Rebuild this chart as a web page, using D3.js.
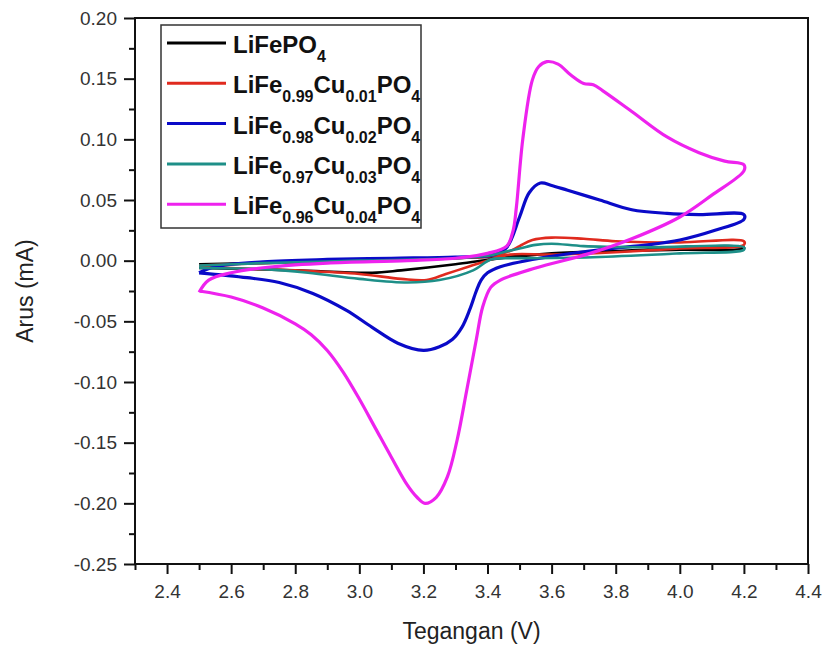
<!DOCTYPE html>
<html>
<head>
<meta charset="utf-8">
<script src="https://cdn.jsdelivr.net/npm/d3@7"></script>
<style>
  body { margin: 0; background: #fff; }
  svg { font-family: Arial, "Liberation Sans", sans-serif; }
</style>
</head>
<body>
<svg id="chart" width="825" height="645"></svg>
<script>
// LiFePO4
var voltage00 = [2.50, 2.80, 3.04, 3.13, 3.30, 3.41, 3.60, 3.80, 4.00, 4.20, 4.20, 3.80, 3.40, 3.00, 2.50];
var current00 = [-0.006, -0.008, -0.010, -0.008, -0.003, 0.001, 0.006, 0.008, 0.009, 0.010, 0.011, 0.008, 0.003, 0.000, -0.003];

// LiFe0.99Cu0.01PO4
var voltage01 = [2.50, 2.70, 3.00, 3.30, 3.42, 3.47, 3.50, 3.54, 3.60, 3.70, 3.80, 4.00, 4.20,
                 4.20, 4.00, 3.80, 3.60, 3.47, 3.40, 3.34, 3.27, 3.21, 3.13, 3.00, 2.80, 2.60, 2.50];
var current01 = [-0.004, -0.002, 0.000, 0.002, 0.004, 0.008, 0.012, 0.017, 0.019, 0.018, 0.016, 0.015, 0.016,
                 0.013, 0.010, 0.007, 0.005, 0.005, 0.000, -0.005, -0.011, -0.016, -0.015, -0.011, -0.008, -0.006, -0.004];

// LiFe0.98Cu0.02PO4
var voltage02 = [2.50, 2.55, 2.70, 2.90, 3.10, 3.30, 3.42, 3.46, 3.50, 3.53, 3.565, 3.60, 3.65, 3.75, 3.85, 3.96, 4.06, 4.20,
                 4.20, 4.11, 4.00, 3.90, 3.75, 3.54, 3.44, 3.40, 3.38, 3.365, 3.345, 3.32, 3.29, 3.25, 3.20, 3.12, 3.04, 2.96, 2.855, 2.75, 2.65, 2.50];
var current02 = [-0.010, -0.005, -0.001, 0.001, 0.002, 0.003, 0.005, 0.011, 0.036, 0.056, 0.064, 0.062, 0.058, 0.050, 0.042, 0.039, 0.038, 0.038,
                 0.034, 0.025, 0.017, 0.013, 0.009, 0.001, -0.005, -0.010, -0.016, -0.025, -0.040, -0.055, -0.065, -0.071, -0.074, -0.068, -0.055, -0.041, -0.027, -0.018, -0.014, -0.010];

// LiFe0.97Cu0.03PO4
var voltage03 = [2.50, 2.70, 3.00, 3.30, 3.40, 3.45, 3.50, 3.55, 3.60, 3.70, 3.90, 4.20,
                 4.20, 4.00, 3.75, 3.55, 3.45, 3.41, 3.355, 3.25, 3.15, 3.00, 2.84, 2.70, 2.50];
var current03 = [-0.004, -0.002, 0.000, 0.002, 0.004, 0.007, 0.010, 0.013, 0.014, 0.012, 0.011, 0.011,
                 0.009, 0.006, 0.003, 0.002, 0.002, 0.001, -0.008, -0.016, -0.018, -0.015, -0.010, -0.007, -0.006];

// LiFe0.96Cu0.04PO4
var voltage04 = [2.50, 2.53, 2.60, 2.73, 2.90, 3.15, 3.30, 3.40, 3.46, 3.48, 3.49, 3.51, 3.54, 3.56, 3.585, 3.62, 3.66, 3.70, 3.73, 3.76, 3.85, 3.96, 4.06, 4.14, 4.20,
                 4.20, 4.10, 4.00, 3.85, 3.72, 3.55, 3.44, 3.41, 3.385, 3.365, 3.335, 3.305, 3.275, 3.24, 3.205, 3.18, 3.15, 3.10, 3.05, 3.00, 2.95, 2.90, 2.85, 2.80, 2.70, 2.60, 2.50];
var current04 = [-0.026, -0.016, -0.010, -0.005, -0.002, 0.000, 0.002, 0.006, 0.012, 0.025, 0.044, 0.100, 0.149, 0.160, 0.164, 0.162, 0.153, 0.146, 0.145, 0.140, 0.123, 0.102, 0.089, 0.082, 0.079,
                 0.074, 0.054, 0.036, 0.018, 0.006, -0.006, -0.016, -0.022, -0.038, -0.065, -0.107, -0.148, -0.178, -0.195, -0.200, -0.195, -0.185, -0.162, -0.138, -0.114, -0.092, -0.074, -0.061, -0.052, -0.039, -0.030, -0.025];

var feSub = ["", "0.99", "0.98", "0.97", "0.96"];
var cuSub = ["", "0.01", "0.02", "0.03", "0.04"];
var colors = ["#000000", "#e02a1e", "#0a0ac8", "#1e8f88", "#ee22ee"];

var xMajor = [2.4, 2.6, 2.8, 3.0, 3.2, 3.4, 3.6, 3.8, 4.0, 4.2, 4.4];
var xMinor = [2.3, 2.5, 2.7, 2.9, 3.1, 3.3, 3.5, 3.7, 3.9, 4.1, 4.3];
var yMajor = [-0.25, -0.20, -0.15, -0.10, -0.05, 0.00, 0.05, 0.10, 0.15, 0.20];
var yMinor = [-0.225, -0.175, -0.125, -0.075, -0.025, 0.025, 0.075, 0.125, 0.175];

var allV = [voltage00, voltage01, voltage02, voltage03, voltage04];
var allI = [current00, current01, current02, current03, current04];

var pLeft = 135, pRight = 808, pTop = 18, pBottom = 564;

var svg = d3.select("#chart");

var x = d3.scaleLinear().domain([2.3, 4.4]).range([pLeft, pRight]);
var y = d3.scaleLinear().domain([-0.25, 0.20]).range([pBottom, pTop]);

// curves
var line = d3.line()
    .x(function(d) { return x(d[0]); })
    .y(function(d) { return y(d[1]); })
    .curve(d3.curveCatmullRom.alpha(0.5));

for (var s = 0; s < allV.length; s++) {
    var pts = allV[s].map(function(v, i) { return [v, allI[s][i]]; });
    svg.append("path")
       .datum(pts)
       .attr("d", line)
       .attr("fill", "none")
       .attr("stroke", colors[s])
       .attr("stroke-width", s == 2 || s == 4 ? 3.2 : 2.6)
       .attr("stroke-linejoin", "round");
}

// frame
svg.append("rect")
   .attr("x", pLeft).attr("y", pTop)
   .attr("width", pRight - pLeft).attr("height", pBottom - pTop)
   .attr("fill", "none").attr("stroke", "#111").attr("stroke-width", 2);

// axes
var fmtX = function(d) { return d3.format(".1f")(d); };
var fmtY = function(d) { return d3.format(".2f")(d).replace("\u2212", "-"); };

svg.append("g")
    .attr("transform", "translate(0," + pBottom + ")")
    .call(d3.axisBottom(x).tickValues(xMajor).tickSize(10).tickPadding(11).tickFormat(fmtX));
svg.append("g")
    .attr("transform", "translate(0," + pBottom + ")")
    .call(d3.axisBottom(x).tickValues(xMinor).tickSize(6).tickFormat(""));

svg.append("g")
    .attr("transform", "translate(" + pLeft + ",0)")
    .call(d3.axisLeft(y).tickValues(yMajor).tickSize(11).tickPadding(7).tickFormat(fmtY));
svg.append("g")
    .attr("transform", "translate(" + pLeft + ",0)")
    .call(d3.axisLeft(y).tickValues(yMinor).tickSize(6).tickFormat(""));

svg.selectAll(".domain").remove();
svg.selectAll(".tick line").attr("stroke", "#111").attr("stroke-width", 2);
svg.selectAll(".tick text")
   .attr("fill", "#333")
   .style("font-size", "19px")
   .style("font-family", "Arial, 'Liberation Sans', sans-serif");

// axis titles
svg.append("text")
   .attr("transform", "translate(33," + (pTop + pBottom) / 2 + ") rotate(-90)")
   .attr("text-anchor", "middle")
   .attr("fill", "#222")
   .style("font-size", "23px")
   .text("Arus (mA)");

svg.append("text")
   .attr("x", (pLeft + pRight) / 2)
   .attr("y", 639)
   .attr("text-anchor", "middle")
   .attr("fill", "#222")
   .style("font-size", "23px")
   .text("Tegangan (V)");

// legend
svg.append("rect")
   .attr("x", 161).attr("y", 25).attr("width", 260).attr("height", 203)
   .attr("fill", "#fff").attr("stroke", "#333").attr("stroke-width", 1.5);

for (var k = 0; k < colors.length; k++) {
    var base = 53 + k * 40.3;
    svg.append("line")
       .attr("x1", 167).attr("x2", 226)
       .attr("y1", base - 10).attr("y2", base - 10)
       .attr("stroke", colors[k]).attr("stroke-width", 3);

    var t = svg.append("text")
       .attr("x", 233).attr("y", base)
       .attr("fill", "#111")
       .style("font-size", "24px")
       .style("font-weight", "bold");

    if (k == 0) {
        t.append("tspan").text("LiFePO");
        t.append("tspan").attr("dy", 9).style("font-size", "16px").text("4");
    } else {
        t.append("tspan").text("LiFe");
        t.append("tspan").attr("dy", 9).style("font-size", "16px").text(feSub[k]);
        t.append("tspan").attr("dy", -9).text("Cu");
        t.append("tspan").attr("dy", 9).style("font-size", "16px").text(cuSub[k]);
        t.append("tspan").attr("dy", -9).text("PO");
        t.append("tspan").attr("dy", 9).style("font-size", "16px").text("4");
    }
}
</script>
</body>
</html>
